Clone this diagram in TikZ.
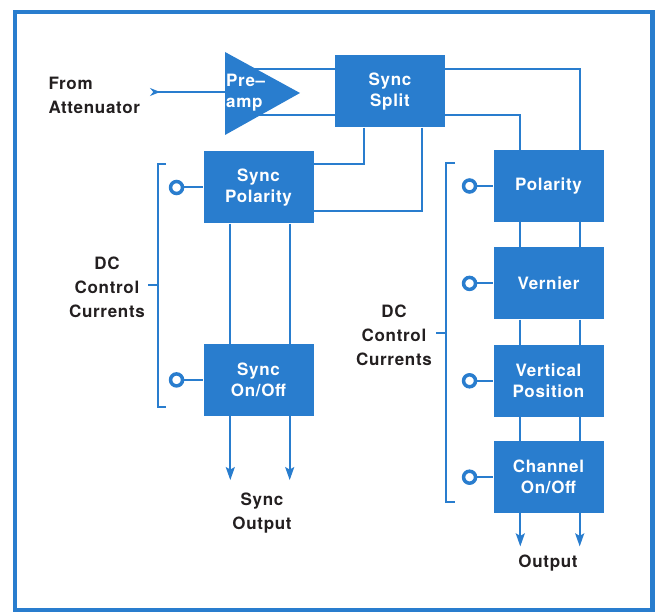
\documentclass[tikz,border=0pt]{standalone}
\usepackage{fontspec}
\setmainfont{TeX Gyre Heros}[LetterSpace=4]
\usetikzlibrary{positioning, arrows.meta, calc}
\definecolor{hpblue}{RGB}{41,125,206}
\definecolor{ink}{RGB}{35,31,32}
\tikzset{
        >={Stealth[length=13pt,width=9pt,inset=2.5pt]}, % arrow heads of the outputs
        block/.style={fill=hpblue, text=white, minimum width=110pt, minimum height=72pt,
          inner sep=0pt, align=center, font=\fontsize{17}{21}\selectfont\bfseries}, % blue boxes
        txt/.style={text=ink, align=center, font=\fontsize{17}{24}\selectfont\bfseries}, % black labels
        wire/.style={draw=hpblue, line width=2pt}, % signal lines
        ctrl/.style={circle, draw=hpblue, line width=3.5pt, minimum size=12pt, inner sep=0pt}, % control inputs
    }
\begin{document}
\begin{tikzpicture}[x=1pt, y=-1pt]
    \useasboundingbox (0,0) rectangle (657,612);
    \draw[hpblue, line width=4.5pt] (15,12) rectangle (652.5,610);
    % blocks
    \node[block] (split) at (390,91.5) {Sync\\Split};
    \node[block] (spol) at (258.5,187.5) {Sync\\Polarity};
    \node[block, below=120pt of spol] (sonoff) {Sync\\On/Off};
    \node[block] (pol) at (548.5,186) {Polarity};
    \node[block, below=25pt of pol] (vern) {Vernier};
    \node[block, below=25pt of vern] (vpos) {Vertical\\Position};
    \node[block, below=24pt of vpos] (chan) {Channel\\On/Off};
    % pre-amp
    \coordinate (hi) at (0,69);
    \coordinate (lo) at (0,115);
    \coordinate (ampin) at (225,92);
    \coordinate (src) at (150,92);
    \draw[wire] (ampin |- hi) -- (split.west |- hi);
    \draw[wire] (ampin |- lo) -- (split.west |- lo);
    \fill[hpblue] (225,52) -- (300,93) coordinate (amptip) -- (225,135) -- cycle;
    \node[block, fill=none, minimum width=0pt, minimum height=0pt, align=left, anchor=west] (amp) at (226,93) {Pre–\\amp};
    \draw[wire, {Stealth[reversed,length=10pt,width=8pt]}-] (src) -- (ampin);
    \node[txt, align=left, anchor=west] (from) at (45,95.5) {From\\Attenuator};
    % sync split outputs
    \draw[wire] (split.east |- hi) -| ($(pol.north east)+(-24,0)$);
    \draw[wire] (split.east |- lo) -| ($(pol.north west)+(27,0)$);
    \draw[wire] ($(split.south west)+(29,0)$) |- ($(spol.north east)+(0,12.5)$);
    \draw[wire] ($(split.south east)+(-23,0)$) |- ($(spol.south east)+(0,-13)$);
    % chains
    \foreach \a/\b in {spol/sonoff, pol/vern, vern/vpos, vpos/chan} {
      \draw[wire] ($(\a.south west)+(27,0)$) -- ($(\b.north west)+(27,0)$);
      \draw[wire] ($(\a.south east)+(-24,0)$) -- ($(\b.north east)+(-24,0)$);
    }
    \foreach \b/\l in {sonoff/64, chan/33} {
      \draw[wire, ->] ($(\b.south west)+(27,0)$) -- ++(0,\l);
      \draw[wire, ->] ($(\b.south east)+(-24,0)$) -- ++(0,\l);
    }
    \node[txt] (syncout) at (262,513) {Sync\\Output};
    \node[txt] (out) at (548,563) {Output};
    % control currents
    \foreach \b/\d in {spol/19, sonoff/19, pol/16, vern/16, vpos/16, chan/16} {
      \node[ctrl, left=\d pt of \b] (c\b) {};
      \draw[wire] (c\b) -- (\b);
    }
    \draw[wire] (166,164) -| (158,407) -- (166,407);
    \draw[wire] (158,285) -- (148,285);
    \node[txt] (dcl) at (107,287) {DC\\Control\\Currents};
    \draw[wire] (455,163) -| (446,502) -- (455,502);
    \draw[wire] (446,333) -- (436,333);
    \node[txt] (dcr) at (394,335) {DC\\Control\\Currents};
\end{tikzpicture}
\end{document}
